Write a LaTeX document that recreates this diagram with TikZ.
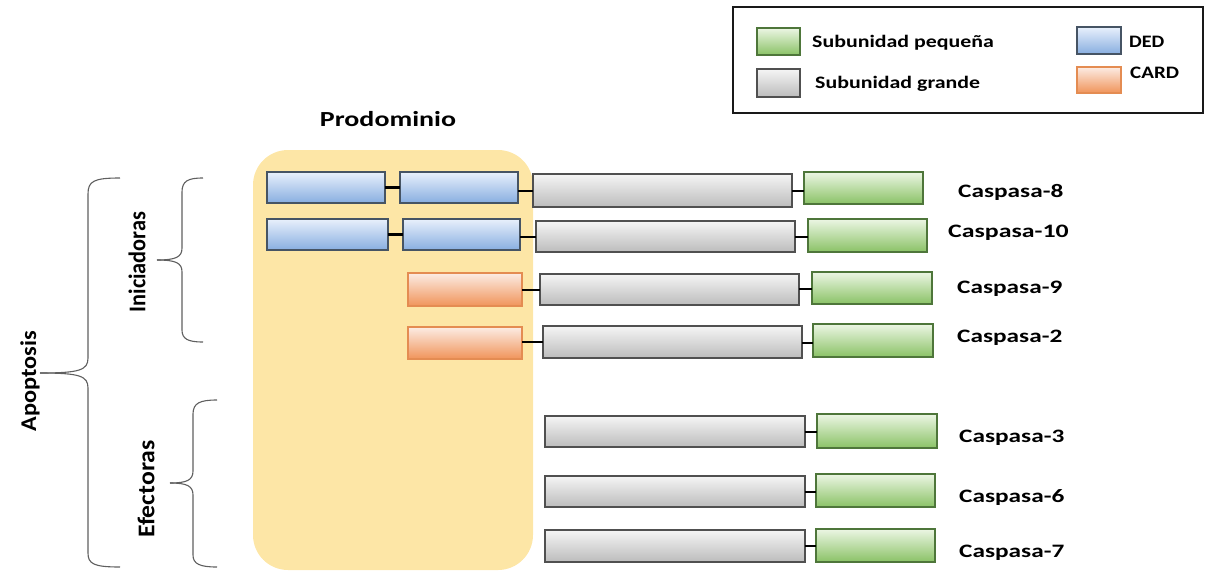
\documentclass[tikz,border=0pt]{standalone}
\usepackage{fontspec}
\usepackage{graphicx}
\setmainfont{Carlito}
\definecolor{dedT}{RGB}{232,240,252}
\definecolor{dedB}{RGB}{136,174,224}
\definecolor{dedD}{RGB}{70,84,100}
\definecolor{grT}{RGB}{245,245,245}
\definecolor{grB}{RGB}{188,188,188}
\definecolor{grD}{RGB}{80,80,80}
\definecolor{gnT}{RGB}{236,246,228}
\definecolor{gnB}{RGB}{138,194,102}
\definecolor{gnD}{RGB}{78,118,58}
\definecolor{orT}{RGB}{252,236,228}
\definecolor{orB}{RGB}{240,148,90}
\definecolor{orD}{RGB}{228,140,82}
\definecolor{prodo}{RGB}{253,230,166}
\definecolor{brc}{RGB}{95,95,95}
\newcommand\bx[6]{\node[#2, minimum width={(#5-#3)*1pt}, minimum height={(#6-#4)*1pt}] (#1) at ({(#3+#5)/2},{(#4+#6)/2}) {};}
\newcommand\wtxt[3]{{\fontsize{#1}{#1}\selectfont\bfseries\scalebox{#2}[1]{#3}}}
\tikzset{
  box/.style={draw, line width=1.3pt, inner sep=0pt, outer sep=0pt},
  ded/.style={box, draw=dedD, top color=dedT, bottom color=dedB},
  card/.style={box, draw=orD, top color=orT, bottom color=orB},
  big/.style={box, draw=grD, top color=grT, bottom color=grB},
  small/.style={box, draw=gnD, top color=gnT, bottom color=gnB},
  link/.style={line width=2.4pt, black},
  brace/.style={draw=brc, line width=1.1pt},
  cname/.style={anchor=base west, inner sep=0pt},
  legtxt/.style={anchor=base west, inner sep=0pt},
}
\begin{document}
\begin{tikzpicture}[x=1pt,y=-1pt]
\useasboundingbox (0,0) rectangle (1206,571);
% prodominio area
\fill[prodo, rounded corners=35pt] (253,150) rectangle (533,570);
\node[inner sep=0pt, anchor=base] (prod) at (388,126) {\wtxt{21.5}{1.3}{Prodominio}};

% legend
\node[draw=black!90, line width=1.4pt, minimum width=470pt, minimum height=106pt, inner sep=0pt] (legend) at (968,60) {};
\bx{lgs}{small}{757}{28}{800}{55}
\bx{lgb}{big}{757}{69}{800}{97}
\bx{lded}{ded}{1077}{27}{1121}{54}
\bx{lcard}{card}{1077}{67}{1121}{93}
\node[legtxt] (tlgs) at (812,47) {\wtxt{17.5}{1.25}{Subunidad pequeña}};
\node[legtxt] (tlgb) at (815,88) {\wtxt{17.5}{1.25}{Subunidad grande}};
\node[legtxt] (tded) at (1129,47) {\wtxt{17.5}{1.15}{DED}};
\node[legtxt] (tcard) at (1130,78) {\wtxt{17.5}{1.2}{CARD}};

% Caspasa-8
\bx{a1}{ded}{267}{172}{385}{203}
\bx{a2}{ded}{400}{172}{518}{203}
\bx{a3}{big}{533}{174}{792}{207}
\bx{a4}{small}{804}{172}{923}{204}
\draw[link] (a1.east) -- (a1.east -| a2.west);
\draw[link] (a3.west |- 0,191) -- (a2.east |- 0,191);
\draw[link] (a3.east |- 0,191) -- (a4.west |- 0,191);
\node[cname] (la) at (958,197) {\wtxt{19}{1.33}{Caspasa-8}};

% Caspasa-10
\bx{b1}{ded}{267}{219}{388}{250}
\bx{b2}{ded}{403}{219}{520}{250}
\bx{b3}{big}{536}{221}{795}{252}
\bx{b4}{small}{808}{219}{927}{252}
\draw[link] (b1.east) -- (b1.east -| b2.west);
\draw[link] (b2.east |- 0,237) -- (b3.west |- 0,237);
\draw[link] (b3.east |- 0,237) -- (b4.west |- 0,237);
\node[cname] (lb) at (948,237) {\wtxt{19}{1.36}{Caspasa-10}};

% Caspasa-9
\bx{c1}{card}{408}{273}{522}{306}
\bx{c3}{big}{540}{274}{799}{305}
\bx{c4}{small}{812}{272}{932}{304}
\draw[link] (c1.east |- 0,290) -- (c3.west |- 0,290);
\draw[link] (c3.east |- 0,289) -- (c4.west |- 0,289);
\node[cname] (lc) at (957,293) {\wtxt{19}{1.33}{Caspasa-9}};

% Caspasa-2
\bx{d1}{card}{408}{327}{522}{359}
\bx{d3}{big}{543}{326}{802}{358}
\bx{d4}{small}{813}{324}{933}{357}
\draw[link] (d1.east |- 0,342) -- (d3.west |- 0,342);
\draw[link] (d3.east |- 0,343) -- (d4.west |- 0,343);
\node[cname] (ld) at (957,342) {\wtxt{19}{1.33}{Caspasa-2}};

% Caspasa-3
\bx{e3}{big}{545}{416}{805}{447}
\bx{e4}{small}{817}{414}{937}{448}
\draw[link] (e3.east |- 0,432) -- (e4.west |- 0,432);
\node[cname] (le) at (959,442) {\wtxt{19}{1.33}{Caspasa-3}};

% Caspasa-6
\bx{f3}{big}{545}{476}{805}{507}
\bx{f4}{small}{816}{474}{935}{507}
\draw[link] (f3.east |- 0,492) -- (f4.west |- 0,492);
\node[cname] (lf) at (959,502) {\wtxt{19}{1.33}{Caspasa-6}};

% Caspasa-7
\bx{g3}{big}{545}{530}{805}{562}
\bx{g4}{small}{816}{529}{935}{562}
\draw[link] (g3.east |- 0,546) -- (g4.west |- 0,546);
\node[cname] (lg) at (959,557) {\wtxt{19}{1.33}{Caspasa-7}};

% braces
\draw[brace] (120,178) .. controls (94,178) and (88,181) .. (88,194) -- (88,358)
  .. controls (88,370) and (80,373) .. (40,373);
\draw[brace] (40,373) .. controls (80,373) and (88,376) .. (88,388) -- (88,553)
  .. controls (88,564) and (94,567) .. (120,567);
\draw[brace] (203,178) .. controls (188,178) and (182,181) .. (182,192) -- (182,248)
  .. controls (182,257) and (176,260) .. (157,260);
\draw[brace] (157,260) .. controls (176,260) and (182,263) .. (182,272) -- (182,330)
  .. controls (182,339) and (188,342) .. (203,342);
\draw[brace] (217,400) .. controls (200,400) and (193,403) .. (193,414) -- (193,471)
  .. controls (193,480) and (187,483) .. (170,483);
\draw[brace] (170,483) .. controls (187,483) and (193,486) .. (193,495) -- (193,555)
  .. controls (193,564) and (200,567) .. (217,567);

% rotated labels
\node[rotate=90, inner sep=0pt] (apop) at (30,381) {\wtxt{22.5}{1.08}{Apoptosis}};
\node[rotate=90, inner sep=0pt] (inic) at (137,262) {\wtxt{24}{0.93}{Iniciadoras}};
\node[rotate=90, inner sep=0pt] (efec) at (146,489) {\wtxt{24}{1.07}{Efectoras}};
\end{tikzpicture}
\end{document}
